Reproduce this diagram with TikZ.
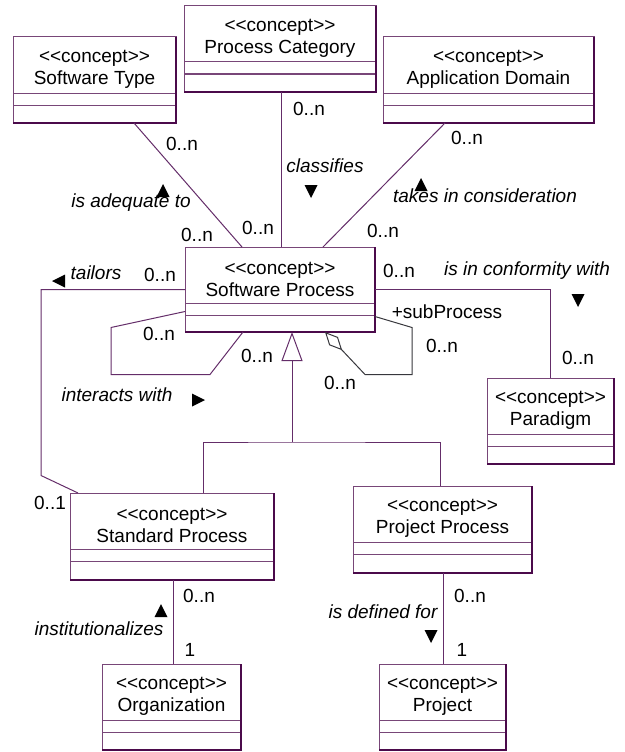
\documentclass[tikz,border=0pt]{standalone}
\usepackage{fontspec}
\setmainfont{Liberation Sans}
\usetikzlibrary{calc,arrows.meta}

\definecolor{boxline}{RGB}{120,70,120}
\definecolor{boxdark}{RGB}{75,10,75}
\definecolor{linkcol}{RGB}{100,45,105}
\definecolor{loopcol}{RGB}{55,55,60}

\tikzset{
  boxframe/.style={draw=boxline, line width=1pt, fill=white, inner sep=0pt, outer sep=0pt, rectangle},
  boxedge/.style={draw=boxdark, line width=2pt},
  divider/.style={draw=boxline, line width=1pt},
  boxtext/.style={align=center, font=\fontsize{19}{22}\selectfont, inner sep=0pt},
  link/.style={draw=linkcol, line width=1pt},
  selflink/.style={draw=loopcol, line width=1pt},
  mult/.style={font=\fontsize{19}{22}\selectfont, inner sep=0pt, text height=14pt, text depth=0pt},
  role/.style={mult, font=\fontsize{19}{22}\selectfont\itshape},
  tri up/.pic={\fill[black] (-6.5,6) -- (6.5,6) -- (0,-7) -- cycle;},
  tri down/.pic={\fill[black] (-6.5,-6) -- (6.5,-6) -- (0,7) -- cycle;},
  tri left/.pic={\fill[black] (6,-6.5) -- (6,6.5) -- (-7,0) -- cycle;},
  tri right/.pic={\fill[black] (-6,-6.5) -- (-6,6.5) -- (7,0) -- cycle;},
}

% concept class box: name, left, top, right, bottom, class name
\newcommand\conceptbox[6]{%
  \pgfmathsetmacro\cbW{#4-#2}\pgfmathsetmacro\cbH{#5-#3}%
  \node[boxframe, minimum width=\cbW pt, minimum height=\cbH pt] (#1) at ({(#2+#4)/2},{(#3+#5)/2}) {};
  \draw[divider] ($(#1.north west)+(0,56)$) -- ($(#1.north east)+(0,56)$);
  \draw[divider] ($(#1.north west)+(0,68)$) -- ($(#1.north east)+(0,68)$);
  \draw[boxedge] (#1.north east) -- (#1.south east) -- (#1.south west);
  \node[boxtext] (#1-title) at ($(#1.north)+(0,32.5)$) {<{}<concept>{}>\\#6};
}

\begin{document}
\begin{tikzpicture}[x=1pt, y=-1pt]
  \useasboundingbox (0,0) rectangle (624,752);

  % classes
  \conceptbox{st}{13}{37}{176}{123}{Software Type}
  \conceptbox{pc}{184}{6}{376}{92}{Process Category}
  \conceptbox{ad}{383}{37}{594}{123}{Application Domain}
  \conceptbox{sp}{185}{247}{375}{332}{Software Process}
  \conceptbox{pa}{487}{378}{614}{464}{Paradigm}
  \conceptbox{stdp}{70}{493}{274}{580}{Standard Process}
  \conceptbox{pp}{353}{486}{532}{573}{Project Process}
  \conceptbox{org}{102}{664}{241}{750}{Organization}
  \conceptbox{pj}{379}{664}{506}{750}{Project}

  % associations towards Software Process
  \draw[link] ($(st.south west)+(121,0)$) -- ($(sp.north west)+(57,0)$);
  \draw[link] ($(pc.south)+(1,0)$) -- ($(sp.north)+(1,0)$);
  \draw[link] ($(ad.south west)+(62,0)$) -- ($(sp.north west)+(138,0)$);

  % tailors
  \draw[link] (sp.west) -- ++(-144,0) -- ++(0,186) -- ($(stdp.north west)+(8,0)$);

  % interacts with (self association)
  \draw[link] ($(sp.west)+(0,22)$) -- ++(-74,16) -- ++(0,47) -- ++(99,0) -- ($(sp.south west)+(58,0)$);

  % sub-process aggregation
  \draw[selflink, -{Diamond[open, length=25pt, width=12pt, fill=white]}]
    ($(sp.east)+(0,27)$) -- ++(37,11) -- ++(0,47) -- ++(-47,0) -- ($(sp.south west)+(140,0)$);

  % is in conformity with
  \draw[link] (sp.east) -| (pa.north);

  % generalization
  \coordinate (gen) at ($(sp.south west)+(107,110)$);
  \draw[link, -{Triangle[open, length=29pt, width=21pt, fill=white]}] (gen) -- ($(sp.south west)+(107,0)$);
  \draw[link] ($(stdp.north west)+(133,0)$) |- (gen) -| ($(pp.north west)+(87,0)$);

  % institutionalizes / is defined for
  \draw[link] ($(stdp.south)+(1,0)$) -- ($(org.north)+(1.5,0)$);
  \draw[link] ($(pp.south)+(0.5,0)$) -- ($(pj.north)+(0.5,0)$);

  % multiplicities
  \node[mult] (m1) at (182,143) {0..n};
  \node[mult] (m2) at (197,234) {0..n};
  \node[mult] (m3) at (309,108) {0..n};
  \node[mult] (m4) at (258,227) {0..n};
  \node[mult] (m5) at (467,137) {0..n};
  \node[mult] (m6) at (383,230) {0..n};
  \node[mult] (m7) at (160,274) {0..n};
  \node[mult] (m8) at (50,502) {0..1};
  \node[mult] (m9) at (159,333) {0..n};
  \node[mult] (m10) at (257,355) {0..n};
  \node[mult] (m11) at (442,345) {0..n};
  \node[mult] (m12) at (340,382) {0..n};
  \node[mult] (m13) at (399,270) {0..n};
  \node[mult] (m14) at (578,357) {0..n};
  \node[mult] (m15) at (199,595) {0..n};
  \node[mult] (m16) at (190,649) {1};
  \node[mult] (m17) at (470,595) {0..n};
  \node[mult] (m18) at (462,649) {1};
  \node[mult] (r0) at (447,311) {+subProcess};

  % association names
  \node[role] (r1) at (131,200) {is adequate to};
  \node[role] (r2) at (325,165) {classifies};
  \node[role] (r3) at (485,195) {takes in consideration};
  \node[role] (r4) at (96,272) {tailors};
  \node[role] (r5) at (117,394) {interacts with};
  \node[role] (r6) at (527,268) {is in conformity with};
  \node[role] (r7) at (99,628) {institutionalizes};
  \node[role] (r8) at (383,611) {is defined for};

  % reading-direction markers
  \pic at (163,191) {tri up};
  \pic at (311,191) {tri down};
  \pic at (421,185) {tri up};
  \pic at (59,281) {tri left};
  \pic at (198,400) {tri right};
  \pic at (578,300) {tri down};
  \pic at (161,611) {tri up};
  \pic at (431,636) {tri down};
\end{tikzpicture}
\end{document}
